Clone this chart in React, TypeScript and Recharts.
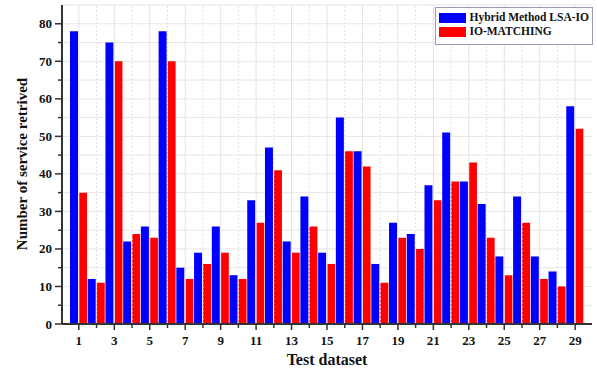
import React from "react"
import { BarChart, Bar, XAxis, YAxis, CartesianGrid, ReferenceLine, Legend } from "recharts"

const datasets = ["1","2","3","4","5","6","7","8","9","10","11","12","13","14","15","16","17","18","19","20","21","22","23","24","25","26","27","28","29"]
const hybridLsaIo = [78, 12, 75, 22, 26, 78, 15, 19, 26, 13, 33, 47, 22, 34, 19, 55, 46, 16, 27, 24, 37, 51, 38, 32, 18, 34, 18, 14, 58]
const ioMatching = [35, 11, 70, 24, 23, 70, 12, 16, 19, 12, 27, 41, 19, 26, 16, 46, 42, 11, 23, 20, 33, 38, 43, 23, 13, 27, 12, 10, 52]
const yTicks = [0, 5, 10, 15, 20, 25, 30, 35, 40, 45, 50, 55, 60, 65, 70, 75, 80]

const data = datasets.map((name, i) => ({
  name,
  hybrid: hybridLsaIo[i],
  io: ioMatching[i],
}))

const FONT = "'Liberation Serif', 'Times New Roman', serif"
const AXIS = "#333333"

// odd datasets get a label and a long tick, even ones a short tick
const XTick = (props: any) => {
  const { x, y, payload } = props
  const major = Number(payload.value) % 2 === 1
  return (
    <g>
      <line x1={x} x2={x} y1={y} y2={y + (major ? 6 : 4)} stroke={AXIS} strokeWidth={1.5} />
      {major && (
        <text x={x} y={y + 21} textAnchor="middle" fontFamily={FONT} fontWeight="bold" fontSize={13} fill="#111">
          {payload.value}
        </text>
      )}
    </g>
  )
}

const YTick = (props: any) => {
  const { x, y, payload } = props
  const major = payload.value % 10 === 0
  return (
    <g>
      <line x1={x - (major ? 7 : 4)} x2={x} y1={y} y2={y} stroke={AXIS} strokeWidth={1.5} />
      {major && (
        <text x={x - 10} y={y + 4.5} textAnchor="end" fontFamily={FONT} fontWeight="bold" fontSize={13} fill="#111">
          {payload.value}
        </text>
      )}
    </g>
  )
}

const LegendBox = (props: any) => {
  const { payload } = props
  return (
    <div
      style={{
        border: "1px solid #9a9ab8",
        background: "#fff",
        padding: "3px 3px 5px 3px",
        fontFamily: FONT,
        fontWeight: "bold",
        fontSize: 11.5,
        color: "#111",
        lineHeight: "13px",
      }}
    >
      {(payload || []).map((entry: any) => (
        <div key={entry.value} style={{ display: "flex", alignItems: "center", marginBottom: 1 }}>
          <span style={{ display: "inline-block", width: 27, height: 10, background: entry.color, marginRight: 4 }} />
          {entry.value}
        </div>
      ))}
    </div>
  )
}

export default function App() {
  return (
    <div style={{ position: "absolute", left: 0, top: 0, width: 597, height: 374, background: "#fff" }}>
      <BarChart
        width={597}
        height={374}
        data={data}
        margin={{ top: 5, right: 5, bottom: 10, left: 0 }}
        barGap={1}
        barSize={8}
      >
        <CartesianGrid vertical={false} stroke="#e6e6e6" />
        {datasets.map((d) => (
          <ReferenceLine
            key={d}
            x={d}
            stroke="#e2e2e2"
            strokeDasharray={Number(d) % 2 === 1 ? undefined : "2 2"}
          />
        ))}
        <XAxis
          dataKey="name"
          interval={0}
          height={40}
          padding={{ left: 8, right: 8 }}
          tickSize={0}
          tickMargin={0}
          tickLine={false}
          tick={<XTick />}
          axisLine={{ stroke: AXIS, strokeWidth: 2 }}
          label={{
            content: () => (
              <text x={327} y={365} textAnchor="middle" fontFamily={FONT} fontWeight="bold" fontSize={16} fill="#111">
                Test dataset
              </text>
            ),
          }}
        />
        <YAxis
          width={62}
          domain={[0, 85]}
          ticks={yTicks}
          interval={0}
          tickSize={0}
          tickMargin={0}
          tickLine={false}
          tick={<YTick />}
          axisLine={{ stroke: AXIS, strokeWidth: 2 }}
          label={{
            content: () => (
              <text
                x={22}
                y={164}
                transform="rotate(-90 22 164)"
                textAnchor="middle"
                dominantBaseline="central"
                fontFamily={FONT}
                fontWeight="bold"
                fontSize={15}
                fill="#111"
              >
                Number of service retrived
              </text>
            ),
          }}
        />
        <Legend
          layout="horizontal"
          verticalAlign="middle"
          align="center"
          content={<LegendBox />}
          wrapperStyle={{ top: 7, right: 4, left: "auto", bottom: "auto", width: "auto", height: "auto" }}
        />
        <Bar dataKey="hybrid" name="Hybrid Method LSA-IO" fill="#0000ff" isAnimationActive={false} />
        <Bar dataKey="io" name="IO-MATCHING" fill="#ff0000" isAnimationActive={false} />
      </BarChart>
    </div>
  )
}
